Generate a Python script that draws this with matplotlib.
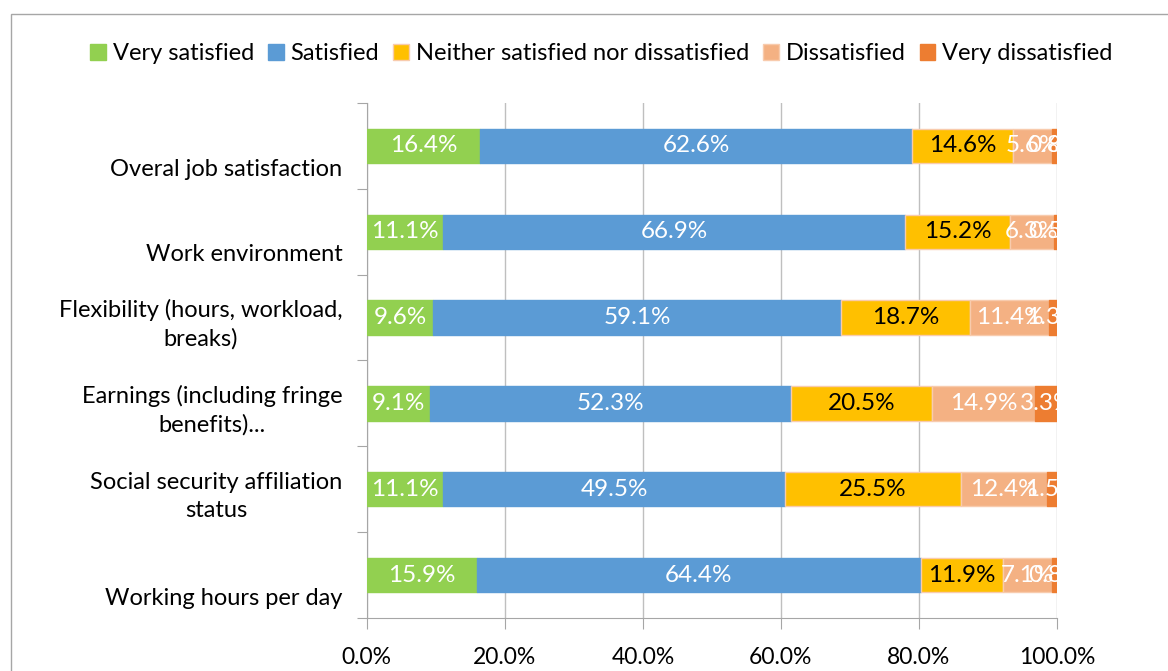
import matplotlib.pyplot as plt
import matplotlib.transforms as mtransforms
from matplotlib.patches import Rectangle
import numpy as np

plt.rcParams['font.family'] = ['Lato', 'DejaVu Sans']

# data
categories = ['Overal job satisfaction', 'Work environment',
              'Flexibility (hours, workload,\nbreaks)',
              'Earnings (including fringe\nbenefits)...',
              'Social security affiliation\nstatus',
              'Working hours per day']
series = ['Very satisfied', 'Satisfied', 'Neither satisfied nor dissatisfied',
          'Dissatisfied', 'Very dissatisfied']
very_satisfied = [16.4, 11.1, 9.6, 9.1, 11.1, 15.9]
satisfied = [62.6, 66.9, 59.1, 52.3, 49.5, 64.4]
neither = [14.6, 15.2, 18.7, 20.5, 25.5, 11.9]
dissatisfied = [5.6, 6.3, 11.4, 14.9, 12.4, 7.1]
very_dissatisfied = [0.8, 0.5, 1.3, 3.3, 1.5, 0.8]

colors = ['#92D050', '#5B9BD5', '#FFC000', '#F4B183', '#ED7D31']
label_colors = ['white', 'white', 'black', 'white', 'white']
edge_colors = ['#92D050', '#5B9BD5', '#F8CBAD', '#F8CBAD', '#ED7D31']

fig = plt.figure(figsize=(11.68, 6.71), dpi=100)
ax = fig.add_axes([0.314, 0.079, 0.591, 0.7675])

y = np.arange(len(categories))
left = np.zeros(len(categories))
for vals, name, c, lc, ec in zip(
        [very_satisfied, satisfied, neither, dissatisfied, very_dissatisfied],
        series, colors, label_colors, edge_colors):
    vals = np.array(vals)
    ax.barh(y, vals, left=left, height=0.4, color=c, edgecolor=ec,
            linewidth=1, label=name, zorder=3)
    for yi, l, v in zip(y, left, vals):
        ax.text(l + v / 2, yi, f'{v:.1f}%', ha='center', va='center',
                color=lc, fontsize=17.5, zorder=4)
    left += vals

ax.set_xlim(0, 100)
ax.set_ylim(len(categories) - 0.5, -0.5)
ax.set_xticks(np.arange(0, 101, 20))
ax.set_xticklabels([f'{t:.1f}%' for t in np.arange(0, 101, 20)], fontsize=16.5)
ax.tick_params(axis='x', length=8, color='#A6A6A6', pad=13)
ax.xaxis.grid(True, color='#BFBFBF', linewidth=1, zorder=0)

# category boundary ticks on left axis
ax.set_yticks(np.arange(-0.5, len(categories), 1))
ax.set_yticklabels([])
ax.tick_params(axis='y', length=7, color='#A6A6A6')

for s in ['top', 'right']:
    ax.spines[s].set_visible(False)
for s in ['left', 'bottom']:
    ax.spines[s].set_color('#A6A6A6')

# category labels
trans = mtransforms.blended_transform_factory(ax.transAxes, ax.transData)
for yi, cat in zip(y, categories):
    dy = 0.08 if '\n' in cat else 0.27
    ax.text(-0.035, yi + dy, cat, transform=trans, ha='right', va='center',
            multialignment='center', fontsize=17, linespacing=1.4)

fig.legend(loc='center', bbox_to_anchor=(0.515, 0.92), ncol=5, frameon=False,
           fontsize=17, handlelength=0.65, handleheight=0.65, handletextpad=0.3,
           columnspacing=0.6)

# outer chart border
fig.patches.append(Rectangle((11 / 1168, -0.01), 1.0, 1 - 14 / 671 + 0.01,
                             transform=fig.transFigure, fill=False,
                             edgecolor='#A6A6A6', linewidth=1))

fig.savefig('out.png', dpi=100)
